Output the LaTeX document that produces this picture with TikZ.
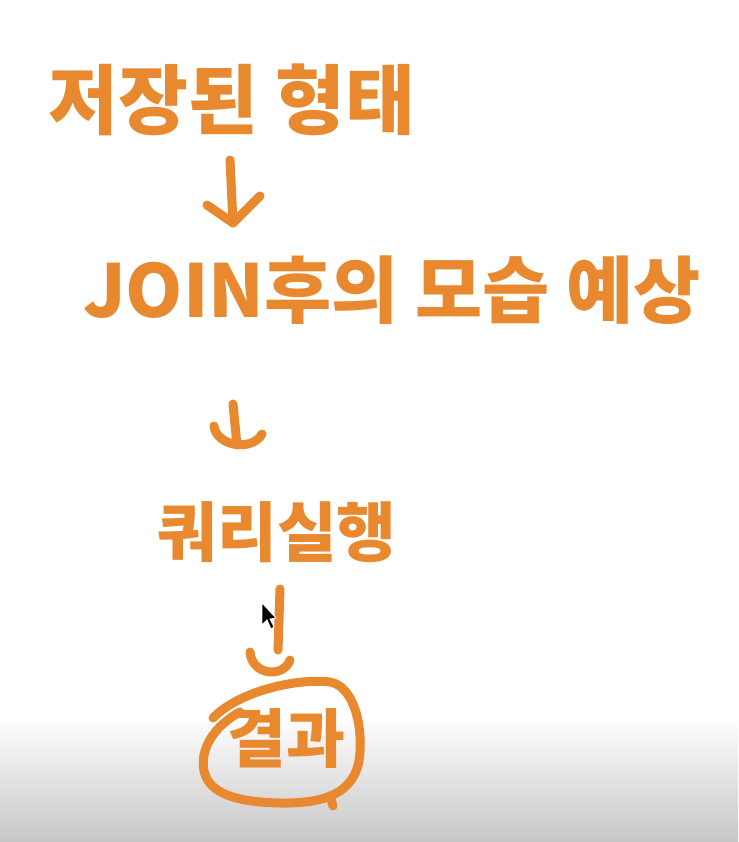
\documentclass[tikz,border=0pt]{standalone}
\usepackage{fontspec}
\newfontfamily\kfont{Noto Sans CJK KR}
\definecolor{pen}{HTML}{E8892F}
\tikzset{
  hand/.style={text=pen, inner sep=0pt, anchor=center},
  stroke/.style={draw=pen, line width=9pt, line cap=round, line join=round}
}
\begin{document}
\begin{tikzpicture}[x=1pt,y=-1pt]
\useasboundingbox (0,0) rectangle (738,842);
\fill[white] (0,0) rectangle (738,842);
\shade[top color=white, bottom color=black!22] (0,715) rectangle (738,842);
\node[hand, font=\kfont\bfseries\fontsize{76}{76}\selectfont] (t1) at (232,100) {저장된 형태};
\node[hand, font=\kfont\bfseries\fontsize{73}{73}\selectfont] (t2) at (392,290) {JOIN후의 모습 예상};
\node[hand, font=\kfont\bfseries\fontsize{65}{65}\selectfont] (t3) at (277,532) {쿼리실행};
\node[hand, font=\kfont\bfseries\fontsize{64}{64}\selectfont] (t4) at (286,738) {결과};
% arrow 1
\coordinate (a1s) at (230,160);
\coordinate (a1e) at (233,223);
\draw[stroke] (a1s) -- (a1e);
\draw[stroke] (207,205) -- (a1e) -- (260,196);
% arrow 2
\coordinate (a2s) at (233,404);
\coordinate (a2e) at (237,445);
\draw[stroke] (a2s) -- (a2e);
\draw[stroke] (214,426) .. controls (216,446) and (252,452) .. (262,434);
% arrow 3
\coordinate (a3s) at (280,589);
\coordinate (a3e) at (278,650);
\draw[stroke] (a3s) -- (a3e);
\draw[stroke] (250,652) .. controls (252,676) and (284,678) .. (290,660);
% circle around result
\draw[stroke] (213,718) .. controls (240,690) and (300,678) .. (330,682)
  .. controls (352,686) and (362,720) .. (360,752)
  .. controls (358,790) and (330,804) .. (280,803)
  .. controls (228,802) and (198,790) .. (204,755)
  .. controls (208,735) and (225,720) .. (240,712);
\draw[stroke] (330,796) -- (333,806);
% cursor
\node[inner sep=0pt] (cur) at (268,617) {};
\fill[black, draw=white, line width=0.8pt] (262,603) -- (262,625) -- (267,620) -- (271,629) -- (274,627) -- (270,619) -- (276,618) -- cycle;
\end{tikzpicture}
\end{document}
